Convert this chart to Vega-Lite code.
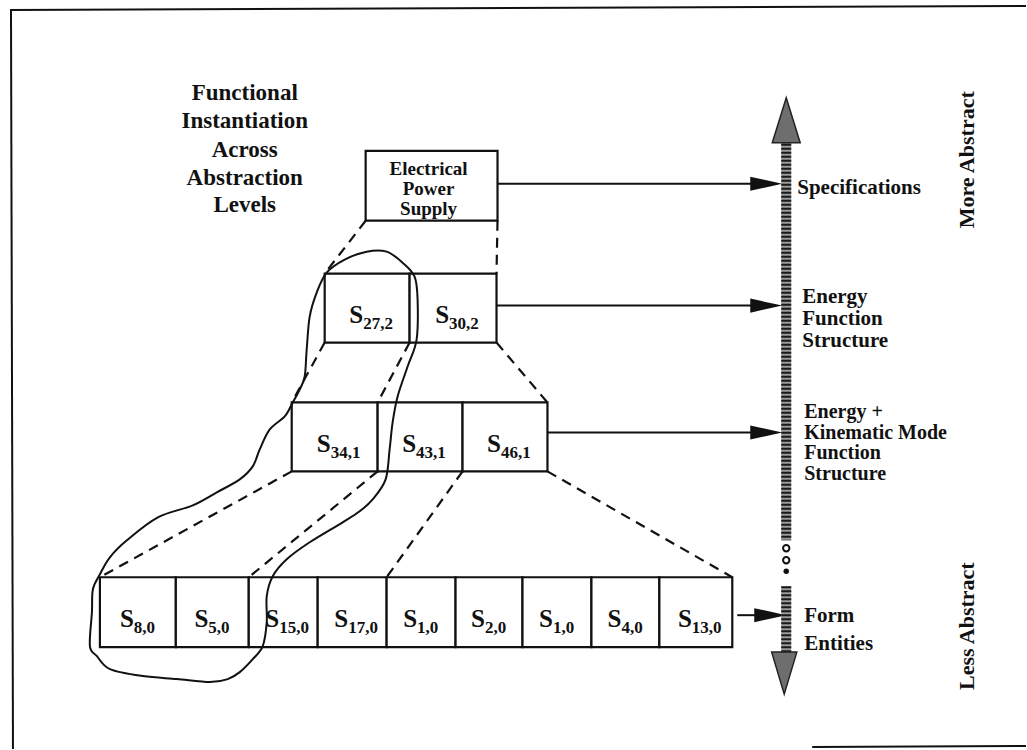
{
  "$schema": "https://vega.github.io/schema/vega-lite/v6.json",
  "width": 1027,
  "height": 750,
  "autosize": {"type": "fit", "contains": "padding"},
  "padding": 0,
  "background": "white",
  "config": {"view": {"stroke": null}},
  "datasets": {
    "frame": [
      {"x1": 10, "y1": 10, "x2": 1027, "y2": 6},
      {"x1": 11, "y1": 10, "x2": 13, "y2": 750},
      {"x1": 813, "y1": 748, "x2": 1027, "y2": 747}
    ],
    "dashes": [
      {"x1": 366, "y1": 221, "x2": 325, "y2": 274},
      {"x1": 498, "y1": 221, "x2": 497, "y2": 274},
      {"x1": 325, "y1": 343, "x2": 292, "y2": 403},
      {"x1": 410, "y1": 343, "x2": 378, "y2": 403},
      {"x1": 497, "y1": 343, "x2": 548, "y2": 403},
      {"x1": 292, "y1": 472, "x2": 100, "y2": 578},
      {"x1": 378, "y1": 472, "x2": 249, "y2": 578},
      {"x1": 463, "y1": 472, "x2": 387, "y2": 578},
      {"x1": 548, "y1": 472, "x2": 733, "y2": 578}
    ],
    "boxes": [
      {"x0": 366, "x1": 498, "y0": 151, "y1": 221},
      {"x0": 325, "x1": 410, "y0": 274, "y1": 343},
      {"x0": 410, "x1": 497, "y0": 274, "y1": 343},
      {"x0": 292, "x1": 378, "y0": 403, "y1": 472},
      {"x0": 378, "x1": 463, "y0": 403, "y1": 472},
      {"x0": 463, "x1": 548, "y0": 403, "y1": 472},
      {"x0": 100, "x1": 176, "y0": 578, "y1": 648},
      {"x0": 176, "x1": 249, "y0": 578, "y1": 648},
      {"x0": 249, "x1": 318, "y0": 578, "y1": 648},
      {"x0": 318, "x1": 387, "y0": 578, "y1": 648},
      {"x0": 387, "x1": 456, "y0": 578, "y1": 648},
      {"x0": 456, "x1": 523, "y0": 578, "y1": 648},
      {"x0": 523, "x1": 592, "y0": 578, "y1": 648},
      {"x0": 592, "x1": 660, "y0": 578, "y1": 648},
      {"x0": 660, "x1": 733, "y0": 578, "y1": 648}
    ],
    "cells": [
      {"cx": 367.5, "cy": 308.5, "sub": "27,2"},
      {"cx": 453.5, "cy": 308.5, "sub": "30,2"},
      {"cx": 335, "cy": 437.5, "sub": "34,1"},
      {"cx": 420.5, "cy": 437.5, "sub": "43,1"},
      {"cx": 505.5, "cy": 437.5, "sub": "46,1"},
      {"cx": 138, "cy": 613, "sub": "8,0"},
      {"cx": 212.5, "cy": 613, "sub": "5,0"},
      {"cx": 283.5, "cy": 613, "sub": "15,0"},
      {"cx": 352.5, "cy": 613, "sub": "17,0"},
      {"cx": 421.5, "cy": 613, "sub": "1,0"},
      {"cx": 489.5, "cy": 613, "sub": "2,0"},
      {"cx": 557.5, "cy": 613, "sub": "1,0"},
      {"cx": 626, "cy": 613, "sub": "4,0"},
      {"cx": 696.5, "cy": 613, "sub": "13,0"}
    ],
    "arrows": [
      {"x1": 498, "x2": 752, "y": 184, "hx": 767},
      {"x1": 497, "x2": 752, "y": 306, "hx": 767},
      {"x1": 548, "x2": 752, "y": 433, "hx": 767},
      {"x1": 738, "x2": 758, "y": 616, "hx": 771}
    ],
    "shaft": [
      {"x": 787, "y1": 140, "y2": 541},
      {"x": 787, "y1": 587, "y2": 656}
    ],
    "heads_up": [{"x": 787, "y": 120.5}],
    "heads_down": [{"x": 785, "y": 674}],
    "dots_open": [{"x": 787, "y": 549}, {"x": 787, "y": 561}],
    "dots_filled": [{"x": 787, "y": 572}],
    "loop": [
      {"i": 1, "x": 367, "y": 252}, {"i": 2, "x": 387, "y": 252}, {"i": 3, "x": 403, "y": 263},
      {"i": 4, "x": 415, "y": 277}, {"i": 5, "x": 418, "y": 300}, {"i": 6, "x": 417, "y": 340},
      {"i": 7, "x": 408, "y": 367}, {"i": 8, "x": 398, "y": 397}, {"i": 9, "x": 393, "y": 423},
      {"i": 10, "x": 390, "y": 450}, {"i": 11, "x": 386, "y": 480}, {"i": 12, "x": 373, "y": 500},
      {"i": 13, "x": 360, "y": 512}, {"i": 14, "x": 343, "y": 523}, {"i": 15, "x": 310, "y": 543},
      {"i": 16, "x": 287, "y": 560}, {"i": 17, "x": 273, "y": 577}, {"i": 18, "x": 267, "y": 597},
      {"i": 19, "x": 267, "y": 623}, {"i": 20, "x": 263, "y": 647}, {"i": 21, "x": 253, "y": 660},
      {"i": 22, "x": 240, "y": 673}, {"i": 23, "x": 228, "y": 680}, {"i": 24, "x": 210, "y": 683},
      {"i": 25, "x": 177, "y": 680}, {"i": 26, "x": 143, "y": 677}, {"i": 27, "x": 110, "y": 670},
      {"i": 28, "x": 97, "y": 657}, {"i": 29, "x": 90, "y": 647}, {"i": 30, "x": 92, "y": 613},
      {"i": 31, "x": 93, "y": 590}, {"i": 32, "x": 100, "y": 575}, {"i": 33, "x": 110, "y": 558},
      {"i": 34, "x": 127, "y": 541}, {"i": 35, "x": 158, "y": 518}, {"i": 36, "x": 193, "y": 506},
      {"i": 37, "x": 217, "y": 493}, {"i": 38, "x": 240, "y": 480}, {"i": 39, "x": 253, "y": 467},
      {"i": 40, "x": 260, "y": 450}, {"i": 41, "x": 270, "y": 430}, {"i": 42, "x": 285, "y": 417},
      {"i": 43, "x": 293, "y": 403}, {"i": 44, "x": 300, "y": 390}, {"i": 45, "x": 305, "y": 377},
      {"i": 46, "x": 307, "y": 350}, {"i": 47, "x": 310, "y": 317}, {"i": 48, "x": 317, "y": 293},
      {"i": 49, "x": 327, "y": 273}, {"i": 50, "x": 345, "y": 260}
    ],
    "title": [
      {"t": "Functional", "x": 245, "y": 100},
      {"t": "Instantiation", "x": 245, "y": 128},
      {"t": "Across", "x": 245, "y": 157},
      {"t": "Abstraction", "x": 245, "y": 185},
      {"t": "Levels", "x": 245, "y": 212}
    ],
    "eps": [
      {"t": "Electrical", "x": 429, "y": 175},
      {"t": "Power", "x": 429, "y": 195},
      {"t": "Supply", "x": 429, "y": 215}
    ],
    "labels": [
      {"t": "Specifications", "x": 798, "y": 194},
      {"t": "Energy", "x": 803, "y": 303},
      {"t": "Function", "x": 803, "y": 325},
      {"t": "Structure", "x": 803, "y": 347},
      {"t": "Form", "x": 805, "y": 623},
      {"t": "Entities", "x": 805, "y": 651}
    ],
    "labels2": [
      {"t": "Energy +", "x": 805, "y": 419},
      {"t": "Kinematic Mode", "x": 805, "y": 439.5},
      {"t": "Function", "x": 805, "y": 460},
      {"t": "Structure", "x": 805, "y": 480.5}
    ],
    "side": [
      {"t": "More Abstract", "x": 968, "y": 160},
      {"t": "Less Abstract", "x": 968, "y": 627}
    ]
  },
  "layer": [
    {
      "data": {"name": "frame"},
      "mark": {"type": "rule", "color": "#111", "strokeWidth": 2},
      "encoding": {
        "x": {"field": "x1", "type": "quantitative", "scale": {"domain": [0, 1027], "nice": false, "zero": false}, "axis": null},
        "y": {"field": "y1", "type": "quantitative", "scale": {"domain": [0, 750], "reverse": true, "nice": false, "zero": false}, "axis": null},
        "x2": {"field": "x2"},
        "y2": {"field": "y2"}
      }
    },
    {
      "data": {"name": "dashes"},
      "mark": {"type": "rule", "color": "#111", "strokeWidth": 2.2, "strokeDash": [10, 7]},
      "encoding": {
        "x": {"field": "x1", "type": "quantitative", "scale": {"domain": [0, 1027], "nice": false, "zero": false}, "axis": null},
        "y": {"field": "y1", "type": "quantitative", "scale": {"domain": [0, 750], "reverse": true, "nice": false, "zero": false}, "axis": null},
        "x2": {"field": "x2"},
        "y2": {"field": "y2"}
      }
    },
    {
      "data": {"name": "arrows"},
      "mark": {"type": "rule", "color": "#111", "strokeWidth": 2},
      "encoding": {
        "x": {"field": "x1", "type": "quantitative", "scale": {"domain": [0, 1027], "nice": false, "zero": false}, "axis": null},
        "y": {"field": "y", "type": "quantitative", "scale": {"domain": [0, 750], "reverse": true, "nice": false, "zero": false}, "axis": null},
        "x2": {"field": "x2"}
      }
    },
    {
      "data": {"name": "arrows"},
      "mark": {"type": "point", "shape": "M-1,-0.44L1,0L-1,0.44Z", "size": 1024, "filled": true, "color": "#111", "opacity": 1},
      "encoding": {
        "x": {"field": "hx", "type": "quantitative", "scale": {"domain": [0, 1027], "nice": false, "zero": false}, "axis": null},
        "y": {"field": "y", "type": "quantitative", "scale": {"domain": [0, 750], "reverse": true, "nice": false, "zero": false}, "axis": null}
      }
    },
    {
      "data": {"name": "shaft"},
      "mark": {"type": "rule", "color": "#9a9a9a", "strokeWidth": 10},
      "encoding": {
        "x": {"field": "x", "type": "quantitative", "scale": {"domain": [0, 1027], "nice": false, "zero": false}, "axis": null},
        "y": {"field": "y1", "type": "quantitative", "scale": {"domain": [0, 750], "reverse": true, "nice": false, "zero": false}, "axis": null},
        "y2": {"field": "y2"}
      }
    },
    {
      "data": {"name": "shaft"},
      "mark": {"type": "rule", "color": "#1a1a1a", "strokeWidth": 10, "strokeDash": [2, 2]},
      "encoding": {
        "x": {"field": "x", "type": "quantitative", "scale": {"domain": [0, 1027], "nice": false, "zero": false}, "axis": null},
        "y": {"field": "y1", "type": "quantitative", "scale": {"domain": [0, 750], "reverse": true, "nice": false, "zero": false}, "axis": null},
        "y2": {"field": "y2"}
      }
    },
    {
      "data": {"name": "heads_up"},
      "mark": {"type": "point", "shape": "M0,-1L0.62,1L-0.62,1Z", "size": 2025, "filled": true, "fill": "#6e6e6e", "stroke": "#222", "strokeWidth": 1.5, "opacity": 1},
      "encoding": {
        "x": {"field": "x", "type": "quantitative", "scale": {"domain": [0, 1027], "nice": false, "zero": false}, "axis": null},
        "y": {"field": "y", "type": "quantitative", "scale": {"domain": [0, 750], "reverse": true, "nice": false, "zero": false}, "axis": null}
      }
    },
    {
      "data": {"name": "heads_down"},
      "mark": {"type": "point", "shape": "M0,1L0.6,-1L-0.6,-1Z", "size": 1764, "filled": true, "fill": "#6e6e6e", "stroke": "#222", "strokeWidth": 1.5, "opacity": 1},
      "encoding": {
        "x": {"field": "x", "type": "quantitative", "scale": {"domain": [0, 1027], "nice": false, "zero": false}, "axis": null},
        "y": {"field": "y", "type": "quantitative", "scale": {"domain": [0, 750], "reverse": true, "nice": false, "zero": false}, "axis": null}
      }
    },
    {
      "data": {"name": "dots_open"},
      "mark": {"type": "point", "shape": "circle", "size": 40, "filled": false, "stroke": "#111", "strokeWidth": 2, "opacity": 1},
      "encoding": {
        "x": {"field": "x", "type": "quantitative", "scale": {"domain": [0, 1027], "nice": false, "zero": false}, "axis": null},
        "y": {"field": "y", "type": "quantitative", "scale": {"domain": [0, 750], "reverse": true, "nice": false, "zero": false}, "axis": null}
      }
    },
    {
      "data": {"name": "dots_filled"},
      "mark": {"type": "point", "shape": "circle", "size": 30, "filled": true, "color": "#111", "opacity": 1},
      "encoding": {
        "x": {"field": "x", "type": "quantitative", "scale": {"domain": [0, 1027], "nice": false, "zero": false}, "axis": null},
        "y": {"field": "y", "type": "quantitative", "scale": {"domain": [0, 750], "reverse": true, "nice": false, "zero": false}, "axis": null}
      }
    },
    {
      "data": {"name": "boxes"},
      "mark": {"type": "rect", "fill": "white", "stroke": "#111", "strokeWidth": 2.2},
      "encoding": {
        "x": {"field": "x0", "type": "quantitative", "scale": {"domain": [0, 1027], "nice": false, "zero": false}, "axis": null},
        "x2": {"field": "x1"},
        "y": {"field": "y0", "type": "quantitative", "scale": {"domain": [0, 750], "reverse": true, "nice": false, "zero": false}, "axis": null},
        "y2": {"field": "y1"}
      }
    },
    {
      "data": {"name": "cells"},
      "mark": {"type": "text", "font": "Liberation Serif", "fontWeight": "bold", "fontSize": 25, "align": "right", "baseline": "alphabetic", "dx": -4, "dy": 15, "color": "#111"},
      "encoding": {
        "x": {"field": "cx", "type": "quantitative", "scale": {"domain": [0, 1027], "nice": false, "zero": false}, "axis": null},
        "y": {"field": "cy", "type": "quantitative", "scale": {"domain": [0, 750], "reverse": true, "nice": false, "zero": false}, "axis": null},
        "text": {"value": "S"}
      }
    },
    {
      "data": {"name": "cells"},
      "mark": {"type": "text", "font": "Liberation Serif", "fontWeight": "bold", "fontSize": 17, "align": "left", "baseline": "alphabetic", "dx": -4, "dy": 21, "color": "#111"},
      "encoding": {
        "x": {"field": "cx", "type": "quantitative", "scale": {"domain": [0, 1027], "nice": false, "zero": false}, "axis": null},
        "y": {"field": "cy", "type": "quantitative", "scale": {"domain": [0, 750], "reverse": true, "nice": false, "zero": false}, "axis": null},
        "text": {"field": "sub"}
      }
    },
    {
      "data": {"name": "loop"},
      "mark": {"type": "line", "color": "#111", "strokeWidth": 2, "interpolate": "cardinal-closed"},
      "encoding": {
        "x": {"field": "x", "type": "quantitative", "scale": {"domain": [0, 1027], "nice": false, "zero": false}, "axis": null},
        "y": {"field": "y", "type": "quantitative", "scale": {"domain": [0, 750], "reverse": true, "nice": false, "zero": false}, "axis": null},
        "order": {"field": "i", "type": "quantitative"}
      }
    },
    {
      "data": {"name": "title"},
      "mark": {"type": "text", "font": "Liberation Serif", "fontWeight": "bold", "fontSize": 23, "align": "center", "baseline": "alphabetic", "color": "#111"},
      "encoding": {
        "x": {"field": "x", "type": "quantitative", "scale": {"domain": [0, 1027], "nice": false, "zero": false}, "axis": null},
        "y": {"field": "y", "type": "quantitative", "scale": {"domain": [0, 750], "reverse": true, "nice": false, "zero": false}, "axis": null},
        "text": {"field": "t"}
      }
    },
    {
      "data": {"name": "eps"},
      "mark": {"type": "text", "font": "Liberation Serif", "fontWeight": "bold", "fontSize": 19, "align": "center", "baseline": "alphabetic", "color": "#111"},
      "encoding": {
        "x": {"field": "x", "type": "quantitative", "scale": {"domain": [0, 1027], "nice": false, "zero": false}, "axis": null},
        "y": {"field": "y", "type": "quantitative", "scale": {"domain": [0, 750], "reverse": true, "nice": false, "zero": false}, "axis": null},
        "text": {"field": "t"}
      }
    },
    {
      "data": {"name": "labels"},
      "mark": {"type": "text", "font": "Liberation Serif", "fontWeight": "bold", "fontSize": 21, "align": "left", "baseline": "alphabetic", "color": "#111"},
      "encoding": {
        "x": {"field": "x", "type": "quantitative", "scale": {"domain": [0, 1027], "nice": false, "zero": false}, "axis": null},
        "y": {"field": "y", "type": "quantitative", "scale": {"domain": [0, 750], "reverse": true, "nice": false, "zero": false}, "axis": null},
        "text": {"field": "t"}
      }
    },
    {
      "data": {"name": "labels2"},
      "mark": {"type": "text", "font": "Liberation Serif", "fontWeight": "bold", "fontSize": 20, "align": "left", "baseline": "alphabetic", "color": "#111"},
      "encoding": {
        "x": {"field": "x", "type": "quantitative", "scale": {"domain": [0, 1027], "nice": false, "zero": false}, "axis": null},
        "y": {"field": "y", "type": "quantitative", "scale": {"domain": [0, 750], "reverse": true, "nice": false, "zero": false}, "axis": null},
        "text": {"field": "t"}
      }
    },
    {
      "data": {"name": "side"},
      "mark": {"type": "text", "font": "Liberation Serif", "fontWeight": "bold", "fontSize": 22, "align": "center", "baseline": "middle", "angle": 270, "color": "#111"},
      "encoding": {
        "x": {"field": "x", "type": "quantitative", "scale": {"domain": [0, 1027], "nice": false, "zero": false}, "axis": null},
        "y": {"field": "y", "type": "quantitative", "scale": {"domain": [0, 750], "reverse": true, "nice": false, "zero": false}, "axis": null},
        "text": {"field": "t"}
      }
    }
  ]
}
